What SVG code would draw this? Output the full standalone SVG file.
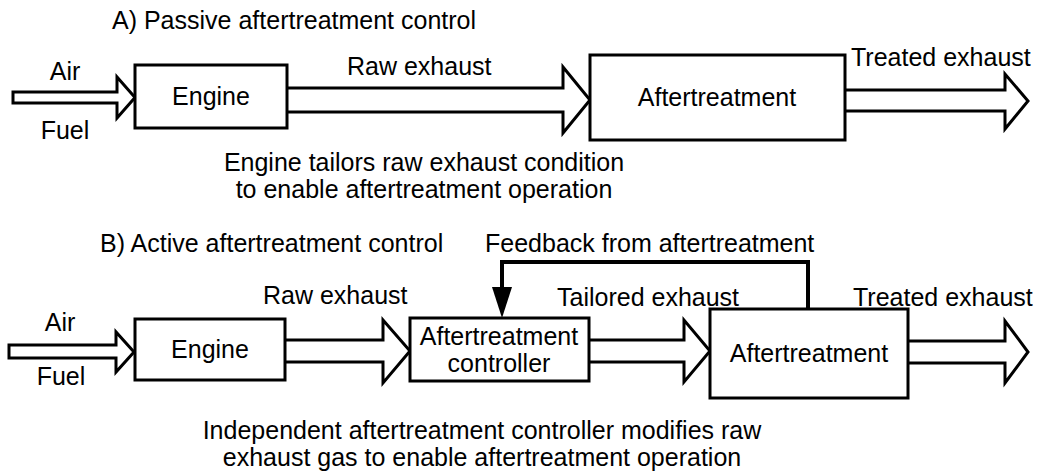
<svg xmlns="http://www.w3.org/2000/svg" width="1040" height="473" viewBox="0 0 1040 473">
<style>
text { font-family: "Liberation Sans", Arial, sans-serif; font-size: 25px; fill: #000; }
.box { fill: #fff; stroke: #000; stroke-width: 3; }
.blk { fill: #fff; stroke: #000; stroke-width: 3; stroke-linejoin: miter; }
.fb { fill: none; stroke: #000; stroke-width: 4; }
.mid { text-anchor: middle; }
</style>
<rect width="1040" height="473" fill="#fff"/>
<text x="112" y="29">A) Passive aftertreatment control</text>
<text x="100" y="252">B) Active aftertreatment control</text>
<g id="connectors">
  <path class="blk" d="M13,92 H117 V77 L135,97.5 L117,118 V103 H13 Z"/>
  <path class="blk" d="M287,88 H563 V67 L590,100 L563,133 V112 H287"/>
  <path class="blk" d="M845,90 H1005 V74 L1028,101 L1005,129 V111 H845"/>
  <path class="blk" d="M9,345 H116 V332 L134,352 L116,372 V358 H9 Z"/>
  <path class="blk" d="M285,340 H383 V320 L410,351 L383,383 V362 H285"/>
  <path class="blk" d="M589,340 H684 V320 L710,351 L684,382 V362 H589"/>
  <path class="blk" d="M908,341 H1005 V321 L1028,352 L1005,383 V363 H908"/>
  <path class="fb" d="M808,309 V262 H502 V292"/>
  <polygon points="492,287 512,287 502,318" fill="#000"/>
</g>
<g id="labels">
  <text class="mid" x="65" y="80">Air</text>
  <text class="mid" x="65" y="139">Fuel</text>
  <text x="347" y="75">Raw exhaust</text>
  <text x="851" y="66">Treated exhaust</text>
  <text class="mid" x="424" y="171">Engine tailors raw exhaust condition</text>
  <text class="mid" x="424" y="198">to enable aftertreatment operation</text>
  <text class="mid" x="60" y="331">Air</text>
  <text class="mid" x="61" y="385">Fuel</text>
  <text x="263" y="304">Raw exhaust</text>
  <text x="557" y="306">Tailored exhaust</text>
  <text x="853" y="306">Treated exhaust</text>
  <text x="485" y="252">Feedback from aftertreatment</text>
  <text class="mid" x="482" y="439">Independent aftertreatment controller modifies raw</text>
  <text class="mid" x="482" y="466">exhaust gas to enable aftertreatment operation</text>
</g>
<g id="engineA">
  <rect class="box" x="135" y="65" width="152" height="63"/>
  <text class="mid" x="211" y="105">Engine</text>
</g>
<g id="aftertreatmentA">
  <rect class="box" x="590" y="55" width="255" height="85"/>
  <text class="mid" x="717" y="106">Aftertreatment</text>
</g>
<g id="engineB">
  <rect class="box" x="135" y="319" width="150" height="61"/>
  <text class="mid" x="210" y="358">Engine</text>
</g>
<g id="controllerB">
  <rect class="box" x="410" y="318" width="179" height="63"/>
  <text class="mid" x="499" y="345">Aftertreatment</text>
  <text class="mid" x="499" y="372">controller</text>
</g>
<g id="aftertreatmentB">
  <rect class="box" x="710" y="309" width="198" height="89"/>
  <text class="mid" x="809" y="362">Aftertreatment</text>
</g>
</svg>
